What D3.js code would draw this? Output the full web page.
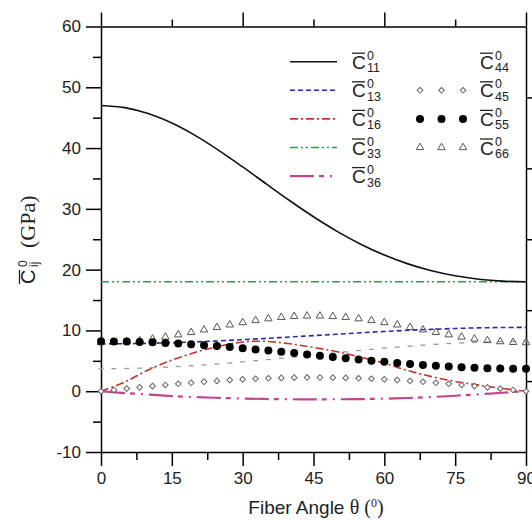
<!DOCTYPE html>
<html>
<head>
<meta charset="utf-8">
<script src="https://cdn.jsdelivr.net/npm/d3@7/dist/d3.min.js"></script>
<style>
  body { margin: 0; background: #fff; }
  svg { display: block; }
</style>
</head>
<body>
<script>
// fibre angles for the smooth curves (deg)
var theta = [0, 5, 10, 15, 20, 25, 30, 35, 40, 45, 50, 55, 60, 65, 70, 75, 80, 85, 90];
var c11 = [47.0, 46.66, 45.68, 44.11, 42.04, 39.59, 36.90, 34.10, 31.33, 28.70, 26.30, 24.19, 22.40, 20.95, 19.82, 18.99, 18.43, 18.11, 18.0];
var c13 = [7.80, 7.82, 7.88, 7.98, 8.12, 8.28, 8.48, 8.69, 8.92, 9.15, 9.38, 9.61, 9.83, 10.02, 10.18, 10.32, 10.42, 10.48, 10.50];
var c16 = [0, 1.5, 3.5, 5.1, 6.4, 7.4, 8.1, 8.2, 7.8, 7.2, 6.5, 5.6, 4.6, 3.4, 2.4, 1.6, 1.0, 0.45, 0];
var c33 = [18, 18, 18, 18, 18, 18, 18, 18, 18, 18, 18, 18, 18, 18, 18, 18, 18, 18, 18];
var c36 = [0, -0.3, -0.55, -0.8, -0.98, -1.1, -1.2, -1.28, -1.32, -1.33, -1.32, -1.3, -1.22, -1.12, -0.95, -0.75, -0.5, -0.25, 0];

// angles where the symbol series are marked
var mAngles = [0, 2.73, 5.45, 8.18, 10.91, 13.64, 16.36, 19.09, 21.82, 24.55, 27.27, 30, 32.73, 35.45, 38.18, 40.91, 43.64,
  46.36, 49.09, 51.82, 54.55, 57.27, 60, 62.73, 65.45, 68.18, 70.91, 73.64, 76.36, 79.09, 81.82, 84.55, 87.27, 90];
var c44 = [3.70, 3.71, 3.74, 3.79, 3.86, 3.95, 4.06, 4.18, 4.32, 4.48, 4.64, 4.83, 5.02, 5.21, 5.42, 5.63, 5.84,
  6.06, 6.27, 6.48, 6.69, 6.88, 7.08, 7.26, 7.42, 7.58, 7.72, 7.84, 7.95, 8.04, 8.11, 8.16, 8.19, 8.20];
var c45 = [0, 0.21, 0.43, 0.63, 0.84, 1.03, 1.22, 1.39, 1.55, 1.70, 1.83, 1.95, 2.05, 2.13, 2.19, 2.23, 2.25,
  2.25, 2.23, 2.19, 2.13, 2.05, 1.95, 1.83, 1.70, 1.55, 1.39, 1.22, 1.03, 0.84, 0.63, 0.43, 0.21, 0];
var c55 = [8.20, 8.19, 8.16, 8.11, 8.04, 7.95, 7.84, 7.72, 7.58, 7.42, 7.26, 7.08, 6.88, 6.69, 6.48, 6.27, 6.06,
  5.84, 5.63, 5.42, 5.21, 5.02, 4.83, 4.64, 4.48, 4.32, 4.18, 4.06, 3.95, 3.86, 3.79, 3.74, 3.71, 3.70];
var c66 = [8.00, 8.04, 8.16, 8.35, 8.61, 8.92, 9.29, 9.68, 10.10, 10.51, 10.92, 11.30, 11.64, 11.93, 12.16, 12.31, 12.39,
  12.39, 12.31, 12.16, 11.93, 11.64, 11.30, 10.92, 10.51, 10.10, 9.68, 9.29, 8.92, 8.61, 8.35, 8.16, 8.04, 8.00];

var xTicks = [0, 15, 30, 45, 60, 75, 90];
var yTicks = [-10, 0, 10, 20, 30, 40, 50, 60];

var W = 532, H = 520;
var SANS = "'Liberation Sans', Arial, sans-serif";
var SERIF = "'Liberation Serif', 'Times New Roman', serif";
var svg = d3.select("body").append("svg").attr("width", W).attr("height", H)
  .style("font-family", SANS);

var x = d3.scaleLinear().domain([0, 90]).range([101, 526]);
var y = d3.scaleLinear().domain([-10, 60]).range([452, 26.5]);
var yr = d3.scaleLinear().domain([0, 6]).range([452, 26.5]);

function styleAxis(g) {
  g.selectAll("path.domain").attr("stroke", "#000").attr("stroke-width", 1.5);
  g.selectAll(".tick line").attr("stroke", "#000").attr("stroke-width", 1.5);
  g.selectAll(".tick text").attr("font-size", 17).attr("fill", "#222").attr("font-family", SANS);
}
var plain = function(d) { return String(d); };

// bottom axis
svg.append("g").attr("transform", "translate(0,452)")
  .call(d3.axisBottom(x).tickValues([7.5, 22.5, 37.5, 52.5, 67.5, 82.5]).tickSize(8).tickFormat(""))
  .call(function(g) { g.select(".domain").remove(); }).call(styleAxis);
svg.append("g").attr("transform", "translate(0,452)")
  .call(d3.axisBottom(x).tickValues(xTicks).tickSize(14).tickSizeOuter(0).tickPadding(6).tickFormat(plain))
  .call(styleAxis);

// top axis
svg.append("g").attr("transform", "translate(0,26.5)")
  .call(d3.axisTop(x).tickValues([15, 45, 75]).tickSize(7).tickFormat(""))
  .call(function(g) { g.select(".domain").remove(); }).call(styleAxis);
svg.append("g").attr("transform", "translate(0,26.5)")
  .call(d3.axisTop(x).tickValues([0, 30, 60, 90]).tickSize(14).tickSizeOuter(0).tickFormat(""))
  .call(styleAxis);

// left axis
svg.append("g").attr("transform", "translate(101,0)")
  .call(d3.axisLeft(y).tickValues([-5, 5, 15, 25, 35, 45, 55]).tickSize(8).tickFormat(""))
  .call(function(g) { g.select(".domain").remove(); }).call(styleAxis);
svg.append("g").attr("transform", "translate(101,0)")
  .call(d3.axisLeft(y).tickValues(yTicks).tickSize(15).tickSizeOuter(0).tickPadding(5).tickFormat(plain))
  .call(styleAxis);

// right axis (no labels)
svg.append("g").attr("transform", "translate(526,0)")
  .call(d3.axisRight(yr).tickValues([1, 2, 3, 4, 5]).tickSize(8).tickSizeOuter(0).tickFormat(""))
  .call(styleAxis);

// curves
var line = d3.line().x(function(d) { return x(d[0]); }).y(function(d) { return y(d[1]); })
  .curve(d3.curveCatmullRom);

var curves = [
  { v: c33, color: "#2f9a50", dash: "8,3,2,3,2,3", w: 1.5 },
  { v: c11, color: "#111", dash: null, w: 1.6 },
  { v: c13, color: "#2a2aa8", dash: "5,3", w: 1.6 },
  { v: c16, color: "#c83228", dash: "8,3,2,3", w: 1.6 },
  { v: c36, color: "#c4448f", dash: "24,5,5,6,2,6", w: 2.2 }
];
curves.forEach(function(c) {
  svg.append("path")
    .datum(theta.map(function(t, i) { return [t, c.v[i]]; }))
    .attr("fill", "none").attr("stroke", c.color).attr("stroke-width", c.w)
    .attr("stroke-dasharray", c.dash).attr("d", line);
});

// symbol series
var diamond = d3.symbol(d3.symbolSquare, 16);
var tri = d3.symbol(d3.symbolTriangle, 24);

svg.append("g").selectAll("line").data(mAngles).enter().append("line")
  .attr("x1", function(d) { return x(d) - 2.5; }).attr("x2", function(d) { return x(d) + 2.5; })
  .attr("y1", function(d, i) { return y(c44[i]); }).attr("y2", function(d, i) { return y(c44[i]); })
  .attr("stroke", "#999").attr("stroke-width", 1.3);

svg.append("g").selectAll("path").data(mAngles).enter().append("path")
  .attr("d", diamond)
  .attr("transform", function(d, i) { return "translate(" + x(d) + "," + y(c45[i]) + ")rotate(45)"; })
  .attr("fill", "#fff").attr("stroke", "#666").attr("stroke-width", 1);

svg.append("g").selectAll("path").data(mAngles).enter().append("path")
  .attr("d", tri)
  .attr("transform", function(d, i) { return "translate(" + x(d) + "," + y(c66[i]) + ")"; })
  .attr("fill", "none").attr("stroke", "#555").attr("stroke-width", 1);

svg.append("g").selectAll("circle").data(mAngles).enter().append("circle")
  .attr("cx", function(d) { return x(d); })
  .attr("cy", function(d, i) { return y(c55[i]); })
  .attr("r", 4).attr("fill", "#000");

// C-bar label with sup 0 and subscript
function cLabel(g, cx, cy, sub) {
  g.append("text").attr("x", cx).attr("y", cy + 7).attr("font-size", 19).attr("fill", "#222").text("C");
  g.append("line").attr("x1", cx).attr("x2", cx + 13).attr("y1", cy - 8.5).attr("y2", cy - 8.5)
    .attr("stroke", "#222").attr("stroke-width", 1.3);
  g.append("text").attr("x", cx + 15).attr("y", cy - 2).attr("font-size", 12.5).attr("fill", "#222").text("0");
  g.append("text").attr("x", cx + 15).attr("y", cy + 10.5).attr("font-size", 12.5).attr("fill", "#222").text(sub);
}

var legL = svg.append("g");
var leftRows = [["11", curves[1]], ["13", curves[2]], ["16", curves[3]], ["33", curves[0]], ["36", curves[4]]];
leftRows.forEach(function(r, i) {
  var ly = 61.7 + i * 28.6;
  legL.append("line").attr("x1", 290).attr("x2", 337).attr("y1", ly).attr("y2", ly)
    .attr("stroke", r[1].color).attr("stroke-width", r[1].w).attr("stroke-dasharray", r[1].dash);
  cLabel(legL, 352, ly, r[0]);
});

var legR = svg.append("g");
var rightSubs = ["44", "45", "55", "66"];
var legX = [420, 441.5, 463];
rightSubs.forEach(function(s, i) {
  var ly = 61.7 + i * 28.6;
  legX.forEach(function(lx) {
    if (s === "45") {
      legR.append("path").attr("d", diamond).attr("transform", "translate(" + lx + "," + ly + ")rotate(45)")
        .attr("fill", "#fff").attr("stroke", "#666");
    } else if (s === "55") {
      legR.append("circle").attr("cx", lx).attr("cy", ly).attr("r", 4).attr("fill", "#000");
    } else if (s === "66") {
      legR.append("path").attr("d", tri).attr("transform", "translate(" + lx + "," + ly + ")")
        .attr("fill", "none").attr("stroke", "#555");
    }
  });
  cLabel(legR, 480, ly, s);
});

// y axis title
var yt = svg.append("g").attr("transform", "translate(35,284)rotate(-90)");
yt.append("text").attr("x", 0).attr("y", 0).attr("font-size", 20).attr("fill", "#222").text("C");
yt.append("line").attr("x1", 0).attr("x2", 14).attr("y1", -15.5).attr("y2", -15.5)
  .attr("stroke", "#222").attr("stroke-width", 1.3);
yt.append("text").attr("x", 17).attr("y", -8).attr("font-size", 12).attr("fill", "#222").text("0");
yt.append("text").attr("x", 17).attr("y", 3).attr("font-size", 12).attr("fill", "#222").text("ij");
yt.append("text").attr("x", 36).attr("y", 0).attr("font-size", 22).attr("fill", "#222")
  .style("font-family", SERIF).text("(GPa)");

// x axis title
var xt = svg.append("text").attr("x", 316).attr("y", 514).attr("text-anchor", "middle")
  .attr("font-size", 19).attr("fill", "#222");
xt.append("tspan").text("Fiber Angle ");
xt.append("tspan").style("font-family", SERIF).attr("font-size", 20).text("\u03b8 (");
xt.append("tspan").style("font-family", SERIF).attr("font-size", 12).attr("dy", -7).text("0");
xt.append("tspan").style("font-family", SERIF).attr("font-size", 20).attr("dy", 7).text(")");
</script>
</body>
</html>
